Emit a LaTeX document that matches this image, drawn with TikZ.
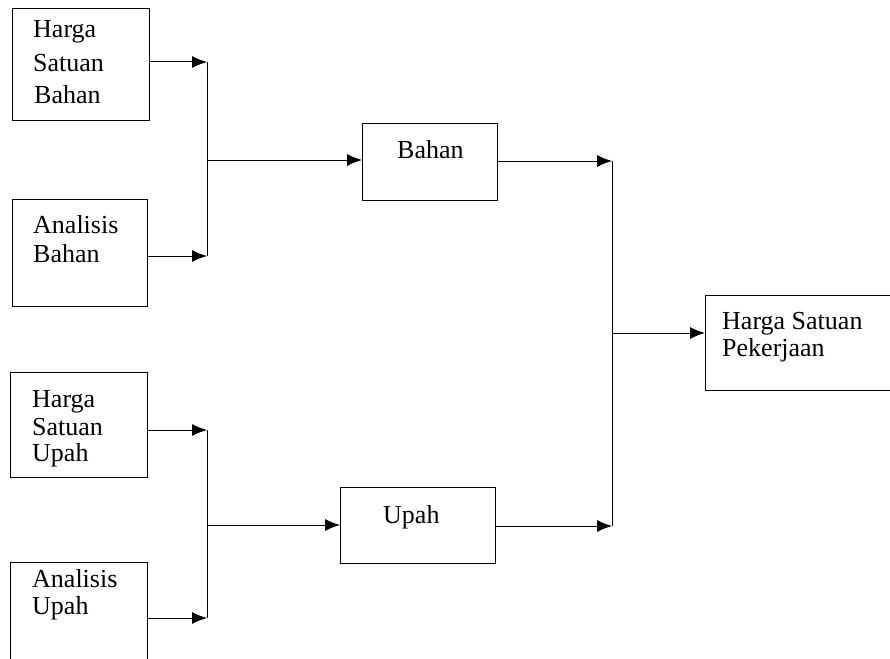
\documentclass[tikz,border=0pt]{standalone}
\usepackage{fontspec}
\setmainfont{Liberation Serif}
\usetikzlibrary{arrows.meta}
\begin{document}
\begin{tikzpicture}[x=1pt,y=-1pt,
  box/.style={draw,line width=1pt,inner sep=0pt,anchor=north west},
  txt/.style={inner sep=0pt,anchor=base west,font=\fontsize{26}{29}\selectfont},
  line/.style={line width=1pt},
  arr/.style={line width=1pt,-{Latex[length=15pt,width=12pt]}}]
\useasboundingbox (0,0) rectangle (890,658);
% boxes
\node[box,minimum width=137pt,minimum height=112pt] (hsb) at (12,8) {};
\node[box,minimum width=135pt,minimum height=107pt] (ab) at (12,199) {};
\node[box,minimum width=137pt,minimum height=105pt] (hsu) at (10,372) {};
\node[box,minimum width=137pt,minimum height=110pt] (au) at (10,562) {};
\node[box,minimum width=135pt,minimum height=77pt] (bahan) at (362,123) {};
\node[box,minimum width=155pt,minimum height=76pt] (upah) at (340,487) {};
\node[box,minimum width=200pt,minimum height=95pt] (hsp) at (705,295) {};
% texts
\node[txt] (t1a) at (33,38) {Harga};
\node[txt] (t1b) at (33,72) {Satuan};
\node[txt] (t1c) at (34,103) {Bahan};
\node[txt] (t2a) at (33,233) {Analisis};
\node[txt] (t2b) at (33,262) {Bahan};
\node[txt] (t3a) at (32,407) {Harga};
\node[txt] (t3b) at (32,435) {Satuan};
\node[txt] (t3c) at (32,461) {Upah};
\node[txt] (t4a) at (32,587) {Analisis};
\node[txt] (t4b) at (32,614) {Upah};
\node[txt] (t5) at (397,158) {Bahan};
\node[txt] (t6) at (383,523) {Upah};
\node[txt] (t7a) at (722,329) {Harga Satuan};
\node[txt] (t7b) at (722,356) {Pekerjaan};
% junction coordinates
\coordinate (j1t) at (207,62);
\coordinate (j1b) at (207,256);
\coordinate (j1m) at (207,160);
\coordinate (j2t) at (207,430);
\coordinate (j2b) at (207,618);
\coordinate (j2m) at (207,525);
\coordinate (j3t) at (612,161);
\coordinate (j3b) at (612,526);
\coordinate (j3m) at (612,333);
% connectors
\draw[arr] (hsb.east |- j1t) -- (j1t);
\draw[arr] (ab.east |- j1b) -- (j1b);
\draw[line] (j1t) -- (j1b);
\draw[arr] (j1m) -- (bahan.west |- j1m);
\draw[arr] (hsu.east |- j2t) -- (j2t);
\draw[arr] (au.east |- j2b) -- (j2b);
\draw[line] (j2t) -- (j2b);
\draw[arr] (j2m) -- (upah.west |- j2m);
\draw[arr] (bahan.east |- j3t) -- (j3t);
\draw[arr] (upah.east |- j3b) -- (j3b);
\draw[line] (j3t) -- (j3b);
\draw[arr] (j3m) -- (hsp.west |- j3m);
\end{tikzpicture}
\end{document}
